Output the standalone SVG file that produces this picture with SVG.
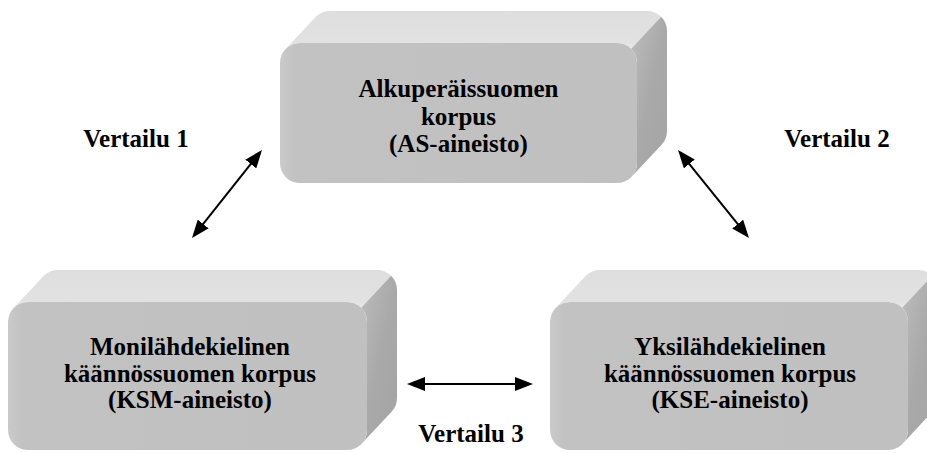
<svg xmlns="http://www.w3.org/2000/svg" width="927" height="453" viewBox="0 0 927 453">
  <defs>
    <linearGradient id="gTop" x1="0" y1="1" x2="0" y2="0">
      <stop offset="0" stop-color="#ebebeb"/>
      <stop offset="0.15" stop-color="#e2e2e2"/>
      <stop offset="1" stop-color="#dedede"/>
    </linearGradient>
    <linearGradient id="gSide" x1="0" y1="0" x2="1" y2="1">
      <stop offset="0" stop-color="#bdbdbd"/>
      <stop offset="0.5" stop-color="#a9a9a9"/>
      <stop offset="1" stop-color="#a4a4a4"/>
    </linearGradient>
    <linearGradient id="gFront" x1="0" y1="0" x2="1" y2="0">
      <stop offset="0" stop-color="#cacaca"/>
      <stop offset="0.04" stop-color="#c2c2c2"/>
      <stop offset="1" stop-color="#c0c0c0"/>
    </linearGradient>
    <marker id="ah" viewBox="0 0 18 14" refX="15" refY="7" markerWidth="18" markerHeight="14" markerUnits="userSpaceOnUse" orient="auto-start-reverse">
      <path d="M0,0 L18,7 L0,14 Z" fill="#000"/>
    </marker>
  </defs>
  <style>
    .top { fill: url(#gTop); }
    .side { fill: url(#gSide); }
    .front { fill: url(#gFront); }
    .t { font-weight: bold; font-size: 25px; fill: #000; text-anchor: middle; }
    .conn line { stroke: #000; stroke-width: 2; marker-start: url(#ah); marker-end: url(#ah); }
  </style>

  <g id="node-as" transform="translate(280,43)">
    <path class="top" d="M5.86,5.86 A20,20 0 0 1 20,0 L337,0 A20,20 0 0 1 351.14,5.86 L381.14,-26.14 A20,20 0 0 0 367,-32 L50,-32 A20,20 0 0 0 35.86,-26.14 Z"/>
    <path class="side" d="M351.14,5.86 A20,20 0 0 1 357,20 L357,120 A20,20 0 0 1 351.14,134.14 L381.14,102.14 A20,20 0 0 0 387,88 L387,-12 A20,20 0 0 0 381.14,-26.14 Z"/>
    <rect class="front" x="0" y="0" width="357" height="140" rx="20" ry="20"/>
    <g font-family="'Liberation Serif', 'Times New Roman', Tinos, 'DejaVu Serif', serif">
      <text class="t" x="178.5" y="54">Alkuperäissuomen</text>
      <text class="t" x="178.5" y="82">korpus</text>
      <text class="t" x="178.5" y="109">(AS-aineisto)</text>
    </g>
  </g>

  <g id="node-ksm" transform="translate(8,302)">
    <path class="top" d="M5.86,5.86 A20,20 0 0 1 20,0 L339,0 A20,20 0 0 1 353.14,5.86 L383.14,-26.14 A20,20 0 0 0 369,-32 L50,-32 A20,20 0 0 0 35.86,-26.14 Z"/>
    <path class="side" d="M353.14,5.86 A20,20 0 0 1 359,20 L359,128 A20,20 0 0 1 353.14,142.14 L383.14,110.14 A20,20 0 0 0 389,96 L389,-12 A20,20 0 0 0 383.14,-26.14 Z"/>
    <rect class="front" x="0" y="0" width="359" height="148" rx="20" ry="20"/>
    <g font-family="'Liberation Serif', 'Times New Roman', Tinos, 'DejaVu Serif', serif">
      <text class="t" x="182" y="53">Monilähdekielinen</text>
      <text class="t" x="182" y="80">käännössuomen korpus</text>
      <text class="t" x="182" y="106">(KSM-aineisto)</text>
    </g>
  </g>

  <g id="node-kse" transform="translate(550,302)">
    <path class="top" d="M5.86,5.86 A20,20 0 0 1 20,0 L338,0 A20,20 0 0 1 352.14,5.86 L382.14,-26.14 A20,20 0 0 0 368,-32 L50,-32 A20,20 0 0 0 35.86,-26.14 Z"/>
    <path class="side" d="M352.14,5.86 A20,20 0 0 1 358,20 L358,128 A20,20 0 0 1 352.14,142.14 L382.14,110.14 A20,20 0 0 0 388,96 L388,-12 A20,20 0 0 0 382.14,-26.14 Z"/>
    <rect class="front" x="0" y="0" width="358" height="148" rx="20" ry="20"/>
    <g font-family="'Liberation Serif', 'Times New Roman', Tinos, 'DejaVu Serif', serif">
      <text class="t" x="180" y="53">Yksilähdekielinen</text>
      <text class="t" x="180" y="80">käännössuomen korpus</text>
      <text class="t" x="180" y="106">(KSE-aineisto)</text>
    </g>
  </g>

  <g id="connectors" class="conn">
    <line x1="193.9" y1="235.7" x2="260.1" y2="152.3"/>
    <line x1="679.9" y1="152.3" x2="747.1" y2="235.7"/>
    <line x1="410" y1="384" x2="530" y2="384"/>
  </g>

  <g id="labels" font-family="'Liberation Serif', 'Times New Roman', Tinos, 'DejaVu Serif', serif">
    <text class="t" x="136" y="147">Vertailu 1</text>
    <text class="t" x="837" y="147">Vertailu 2</text>
    <text class="t" x="471" y="442">Vertailu 3</text>
  </g>
</svg>
